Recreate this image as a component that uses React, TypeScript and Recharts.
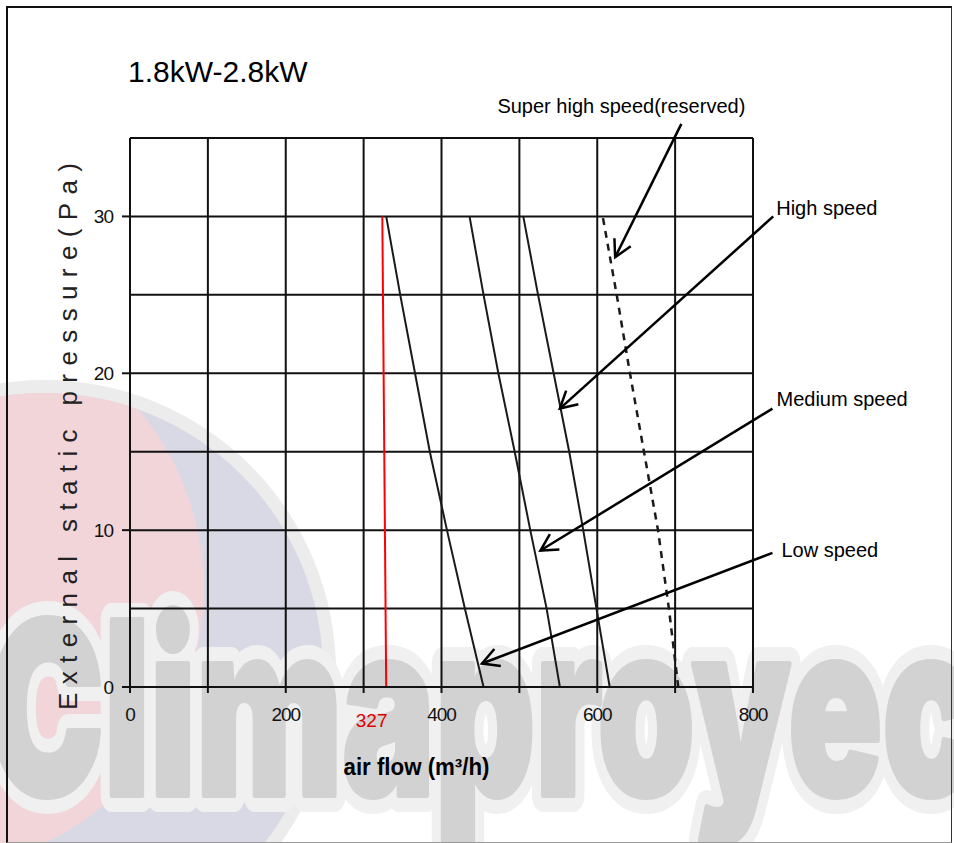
import React from "react";
import {
  CartesianGrid,
  Line,
  LineChart,
  ReferenceDot,
  ReferenceLine,
  XAxis,
  YAxis
} from "recharts";

// axis ticks and grid values
const flowTicks = [0, 100, 200, 300, 400, 500, 600, 700, 800];
const pressureTicks = [0, 10, 20, 30];
const gridFlow = [0, 100, 200, 300, 400, 500, 600, 700, 800];
const gridPressure = [0, 5, 10, 15, 20, 25, 30, 35];

// fan curves, air flow (m3/h) against external static pressure (Pa)
const limitLine = [
  { x: 329, y: 0 },
  { x: 324, y: 30 }
];
const lowSpeed = [
  { x: 454, y: 0 },
  { x: 430, y: 5 },
  { x: 407, y: 10 },
  { x: 385, y: 15 },
  { x: 366, y: 20 },
  { x: 347, y: 25 },
  { x: 329, y: 30 }
];
const mediumSpeed = [
  { x: 552, y: 0 },
  { x: 535, y: 5 },
  { x: 514, y: 10 },
  { x: 494, y: 15 },
  { x: 473, y: 20 },
  { x: 454, y: 25 },
  { x: 436, y: 30 }
];
const highSpeed = [
  { x: 616, y: 0 },
  { x: 599, y: 5 },
  { x: 582, y: 10 },
  { x: 564, y: 15 },
  { x: 544, y: 20 },
  { x: 524, y: 25 },
  { x: 505, y: 30 }
];
const superHighSpeed = [
  { x: 704, y: 0 },
  { x: 692, y: 5 },
  { x: 678, y: 10 },
  { x: 660, y: 15 },
  { x: 642, y: 20 },
  { x: 625, y: 25 },
  { x: 607, y: 30 }
];

const limitValue = 327;

// arrow annotations (data coordinates)
const annotationLabels = ["Super high speed(reserved)", "High speed", "Medium speed", "Low speed"];
const annotationFrom = [
  { x: 708, y: 35.9 },
  { x: 826, y: 30 },
  { x: 825, y: 17.75 },
  { x: 825, y: 8.55 }
];
const annotationTo = [
  { x: 623, y: 27.4 },
  { x: 552, y: 17.75 },
  { x: 527, y: 8.7 },
  { x: 452, y: 1.5 }
];

const labelOffsets = [
  { dx: -60, dy: -11, anchor: "middle" },
  { dx: 3, dy: -1, anchor: "start" },
  { dx: 4, dy: -3, anchor: "start" },
  { dx: 9, dy: 4, anchor: "start" }
];

const sans = "'Liberation Sans', Arial, sans-serif";
const narrow = "'Liberation Sans Narrow', 'Liberation Sans', Arial, sans-serif";
const heavy = "Inter, Lato, 'Liberation Sans', sans-serif";

const arrowShape = (i: number) => (props: any) => {
  const { x1, y1, x2, y2 } = props;
  const ang = Math.atan2(y2 - y1, x2 - x1);
  const len = 19;
  const spread = 0.5;
  const ax = x2 - len * Math.cos(ang - spread);
  const ay = y2 - len * Math.sin(ang - spread);
  const bx = x2 - len * Math.cos(ang + spread);
  const by = y2 - len * Math.sin(ang + spread);
  const off = labelOffsets[i];
  return (
    <g>
      <line x1={x1} y1={y1} x2={x2} y2={y2} stroke="#000" strokeWidth={2.5} />
      <polyline
        points={`${ax},${ay} ${x2},${y2} ${bx},${by}`}
        fill="none"
        stroke="#000"
        strokeWidth={2.5}
      />
      <text
        x={x1 + off.dx}
        y={y1 + off.dy}
        textAnchor={off.anchor}
        fontFamily={sans}
        fontSize={20}
        fill="#000"
      >
        {annotationLabels[i]}
      </text>
    </g>
  );
};

const markProps = {
  x: -12,
  y: 795,
  fontFamily: heavy,
  fontWeight: 900,
  fontSize: 240,
  textLength: 1050,
  lengthAdjust: "spacingAndGlyphs" as const,
  strokeLinejoin: "round" as const
};

const Watermark = () => (
  <svg
    width={954}
    height={843}
    style={{ position: "absolute", left: 0, top: 0 }}
  >
    <defs>
      <clipPath id="discClip">
        <circle cx={44} cy={672} r={279} />
      </clipPath>
    </defs>
    <circle cx={44} cy={672} r={292} fill="#ececec" />
    <circle cx={44} cy={672} r={279} fill="#d9d9e6" />
    <circle cx={-77} cy={590} r={281} fill="#f1d5d9" clipPath="url(#discClip)" />
    <text {...markProps} fill="none" stroke="#f0f0f0" strokeWidth={34}>
      Climaproyect
    </text>
    <text {...markProps} fill="#d2d2d2" stroke="#d2d2d2" strokeWidth={6}>
      Climaproyect
    </text>
  </svg>
);

export default function App() {
  return (
    <div
      style={{
        position: "absolute",
        left: 0,
        top: 0,
        width: 954,
        height: 843,
        background: "#fff",
        overflow: "hidden"
      }}
    >
      <Watermark />
      <div
        style={{
          position: "absolute",
          left: 6,
          top: 6,
          width: 943,
          height: 834,
          borderTop: "2px solid #111",
          borderLeft: "2px solid #111",
          borderRight: "1px solid #333",
          borderBottom: "1px solid #999"
        }}
      />
      <div style={{ position: "absolute", left: 0, top: 0 }}>
        <LineChart
          width={954}
          height={843}
          margin={{ top: 138, right: 201, bottom: 116, left: 70 }}
        >
          <CartesianGrid
            horizontalValues={gridPressure}
            verticalValues={gridFlow}
            stroke="#111"
            strokeWidth={2}
          />
          <XAxis
            type="number"
            dataKey="x"
            domain={[0, 800]}
            ticks={flowTicks}
            interval={0}
            allowDataOverflow
            height={40}
            tickSize={6}
            tickMargin={15}
            tickFormatter={(v: number) => (v % 200 === 0 ? String(v) : "")}
            axisLine={{ stroke: "#111", strokeWidth: 2 }}
            tickLine={{ stroke: "#111", strokeWidth: 2 }}
            tick={{ fontSize: 19, fill: "#111", fontFamily: sans, letterSpacing: -1 }}
            label={{
              content: ({ viewBox }: any) => (
                <text
                  x={viewBox.x + viewBox.width / 2 - 25}
                  y={viewBox.y + 88}
                  textAnchor="middle"
                  fontFamily={narrow}
                  fontWeight="bold"
                  fontSize={23}
                  textLength={146}
                  lengthAdjust="spacingAndGlyphs"
                  fill="#000"
                >
                  air flow (m³/h)
                </text>
              )
            }}
          />
          <YAxis
            type="number"
            dataKey="y"
            domain={[0, 35]}
            ticks={pressureTicks}
            interval={0}
            allowDataOverflow
            width={60}
            tickSize={8}
            tickMargin={9}
            axisLine={{ stroke: "#111", strokeWidth: 2 }}
            tickLine={{ stroke: "#111", strokeWidth: 2 }}
            tick={{ fontSize: 19, fill: "#111", fontFamily: sans, letterSpacing: -1 }}
            label={{
              content: ({ viewBox }: any) => {
                const cx = viewBox.x - 2;
                const cy = viewBox.y + viewBox.height / 2 + 24;
                return (
                  <text
                    x={cx}
                    y={cy}
                    transform={`rotate(-90 ${cx} ${cy})`}
                    textAnchor="middle"
                    dominantBaseline="central"
                    fontFamily={sans}
                    fontSize={26}
                    textLength={547}
                    lengthAdjust="spacing"
                    fill="#222"
                  >
                    External static pressure(Pa)
                  </text>
                );
              }
            }}
          />
          <Line
            data={limitLine}
            dataKey="y"
            type="linear"
            stroke="#ff0000"
            strokeWidth={2}
            dot={false}
            activeDot={false}
            isAnimationActive={false}
          />
          <Line
            data={lowSpeed}
            dataKey="y"
            type="linear"
            stroke="#1a1a1a"
            strokeWidth={2}
            dot={false}
            activeDot={false}
            isAnimationActive={false}
          />
          <Line
            data={mediumSpeed}
            dataKey="y"
            type="linear"
            stroke="#1a1a1a"
            strokeWidth={2}
            dot={false}
            activeDot={false}
            isAnimationActive={false}
          />
          <Line
            data={highSpeed}
            dataKey="y"
            type="linear"
            stroke="#1a1a1a"
            strokeWidth={2}
            dot={false}
            activeDot={false}
            isAnimationActive={false}
          />
          <Line
            data={superHighSpeed}
            dataKey="y"
            type="linear"
            stroke="#1a1a1a"
            strokeWidth={2.5}
            strokeDasharray="7 6"
            dot={false}
            activeDot={false}
            isAnimationActive={false}
          />
          <ReferenceDot
            x={limitValue}
            y={0}
            r={0}
            ifOverflow="visible"
            shape={(p: any) => (
              <text
                x={p.cx - 13}
                y={p.cy + 40}
                textAnchor="middle"
                fontFamily={sans}
                fontSize={19}
                fill="#e00000"
              >
                {limitValue}
              </text>
            )}
          />
          {annotationLabels.map((lbl, i) => (
            <ReferenceLine
              key={lbl}
              segment={[annotationFrom[i], annotationTo[i]]}
              ifOverflow="visible"
              shape={arrowShape(i)}
            />
          ))}
        </LineChart>
      </div>
      <div
        style={{
          position: "absolute",
          left: 128,
          top: 54,
          fontFamily: sans,
          fontSize: 30,
          lineHeight: "36px",
          color: "#000",
          whiteSpace: "nowrap"
        }}
      >
        1.8kW-2.8kW
      </div>
    </div>
  );
}
